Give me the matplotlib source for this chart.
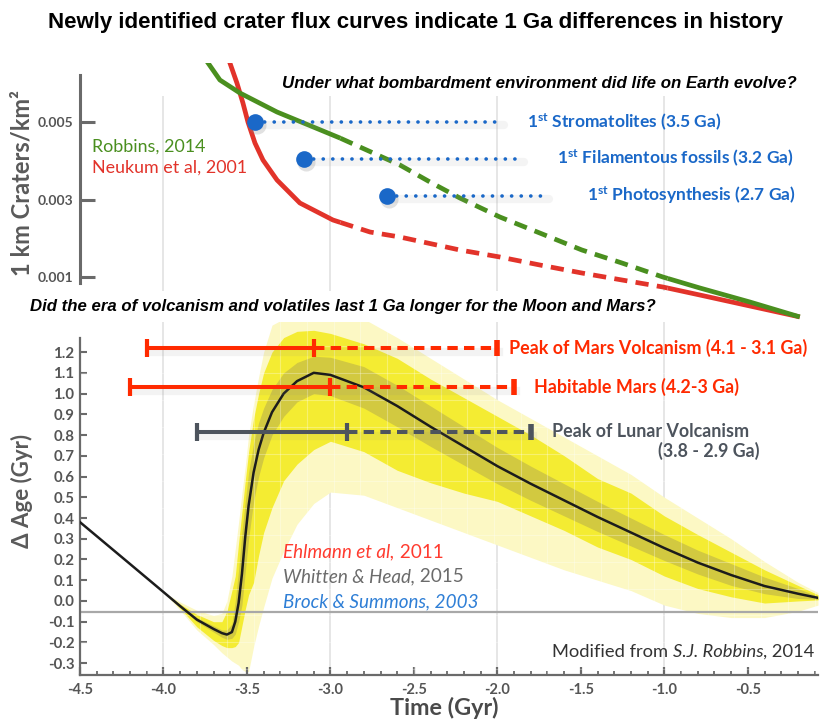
import numpy as np
import matplotlib
matplotlib.use('Agg')
import matplotlib.pyplot as plt
from matplotlib.transforms import offset_copy

plt.rcParams['font.family'] = ['Lato', 'DejaVu Sans']
plt.rcParams['mathtext.fontset'] = 'custom'
plt.rcParams['mathtext.rm'] = 'Lato'
plt.rcParams['mathtext.it'] = 'Lato:italic'
plt.rcParams['mathtext.bf'] = 'Lato:bold'
plt.rcParams['lines.scale_dashes'] = False

# ---- top panel: crater flux curves ----
robbins_t = [-3.78, -3.733, -3.662, -3.542, -3.32, -2.943, -2.584, -2.404, -2.225,
             -1.985, -1.746, -1.494, -1.254, -1.009, -0.787, -0.488, -0.189]
robbins_flux = [0.00681, 0.006523, 0.006084, 0.005748, 0.005258, 0.004587, 0.00389,
                0.003452, 0.003039, 0.002548, 0.002135, 0.001697, 0.001361, 0.001,
                0.000716, 0.000355, -0.00003]
neukum_t = [-3.625, -3.602, -3.56, -3.524, -3.494, -3.452, -3.404, -3.32, -3.183,
            -2.985, -2.763, -2.584, -2.225, -1.985, -1.746, -1.494, -1.254, -1.009,
            -0.787, -0.488, -0.189]
neukum_flux = [0.0068, 0.006523, 0.006006, 0.00549, 0.005, 0.004458, 0.004019,
               0.003503, 0.00291, 0.002471, 0.002161, 0.002032, 0.001697, 0.001516,
               0.00131, 0.001103, 0.000923, 0.000742, 0.000535, 0.000252, -0.00003]
dashed_from, dashed_to = -2.94, -0.98

life_labels = ['Stromatolites (3.5 Ga)', 'Filamentous fossils (3.2 Ga)',
               'Photosynthesis (2.7 Ga)']
life_t = [-3.45, -3.16, -2.66]
life_flux = [0.005, 0.00405, 0.0031]
life_dots_end = [-1.97, -1.85, -1.70]

# ---- bottom panel: delta age ----
age_t = [-4.5, -4.2, -4.0, -3.9, -3.8, -3.7, -3.65, -3.62, -3.59, -3.57, -3.55, -3.53,
         -3.51, -3.49, -3.46, -3.43, -3.40, -3.35, -3.28, -3.20, -3.10, -3.00, -2.80,
         -2.60, -2.40, -2.20, -2.00, -1.80, -1.60, -1.40, -1.20, -1.00, -0.80, -0.60,
         -0.40, -0.20, -0.08]
age_delta = [0.38, 0.178, 0.043, -0.025, -0.09, -0.135, -0.155, -0.162, -0.15, -0.10,
             -0.01, 0.13, 0.31, 0.46, 0.62, 0.73, 0.81, 0.91, 1.00, 1.06, 1.10, 1.09,
             1.03, 0.94, 0.84, 0.745, 0.65, 0.565, 0.485, 0.405, 0.33, 0.255, 0.185,
             0.125, 0.072, 0.035, 0.015]
core_hi = [0.38, 0.178, 0.043, -0.025, -0.08, -0.12, -0.14, -0.14, -0.11, 0.0, 0.15, 0.33,
           0.48, 0.62, 0.76, 0.86, 0.93, 1.02, 1.10, 1.15, 1.18, 1.175, 1.13, 1.04, 0.94,
           0.84, 0.74, 0.65, 0.565, 0.48, 0.40, 0.32, 0.245, 0.18, 0.115, 0.06, 0.022]
core_lo = [0.38, 0.178, 0.043, -0.025, -0.10, -0.15, -0.175, -0.185, -0.18, -0.16, -0.10,
           -0.02, 0.14, 0.30, 0.48, 0.60, 0.69, 0.80, 0.89, 0.96, 1.00, 0.99, 0.93, 0.84,
           0.745, 0.655, 0.565, 0.485, 0.41, 0.335, 0.265, 0.195, 0.13, 0.075, 0.035,
           0.012, 0.008]
mid_hi = [0.38, 0.178, 0.043, -0.015, -0.065, -0.10, -0.10, -0.05, 0.05, 0.12, 0.28, 0.43,
          0.58, 0.72, 0.88, 1.00, 1.10, 1.20, 1.27, 1.30, 1.305, 1.29, 1.24, 1.17, 1.07,
          0.98, 0.89, 0.80, 0.70, 0.59, 0.52, 0.41, 0.32, 0.235, 0.15, 0.075, 0.03]
mid_lo = [0.38, 0.178, 0.043, -0.035, -0.125, -0.19, -0.215, -0.225, -0.225, -0.22, -0.20,
          -0.12, -0.04, 0.03, 0.09, 0.22, 0.33, 0.45, 0.58, 0.66, 0.73, 0.77, 0.72, 0.63,
          0.57, 0.52, 0.48, 0.41, 0.34, 0.26, 0.20, 0.12, 0.06, 0.02, -0.01, 0.0, 0.005]
outer_hi = [0.38, 0.178, 0.043, -0.005, -0.045, -0.07, -0.06, 0.0, 0.12, 0.25, 0.38, 0.52,
            0.65, 0.80, 0.95, 1.08, 1.20, 1.33, 1.36, 1.36, 1.36, 1.36, 1.36, 1.27, 1.17,
            1.07, 0.97, 0.88, 0.79, 0.70, 0.61, 0.50, 0.40, 0.30, 0.19, 0.09, 0.04]
outer_lo = [0.38, 0.178, 0.043, -0.045, -0.14, -0.21, -0.25, -0.27, -0.29, -0.30, -0.31,
            -0.33, -0.34, -0.34, -0.22, -0.12, -0.03, 0.11, 0.24, 0.37, 0.47, 0.525, 0.51,
            0.45, 0.39, 0.33, 0.27, 0.21, 0.15, 0.10, 0.05, -0.02, -0.06, -0.08, -0.08,
            -0.05, -0.02]

era_labels = ['Peak of Mars Volcanism (4.1 - 3.1 Ga)', 'Habitable Mars (4.2-3 Ga)',
              'Peak of Lunar Volcanism']
era_start = [-4.1, -4.2, -3.8]
era_end = [-3.1, -3.0, -2.9]
era_extended = [-2.0, -1.9, -1.8]
era_level = [1.22, 1.03, 0.815]

GREEN = '#4a8f1f'
RED = '#e2332a'
BLUE = '#1a68c8'
BAR_RED = '#ff2a00'
BAR_GRAY = '#4d545d'
AXIS_GRAY = '#6a6a6a'
LABEL_GRAY = '#555555'


def split_at(t, f, a, b):
    t = np.asarray(t)
    f = np.asarray(f)
    fa, fb = np.interp([a, b], t, f)
    inside = (t > a) & (t < b)
    pre = (np.r_[t[t < a], a], np.r_[f[t < a], fa])
    mid = (np.r_[a, t[inside], b], np.r_[fa, f[inside], fb])
    post = (np.r_[b, t[t > b]], np.r_[fb, f[t > b]])
    return pre, mid, post


def pieces(ax, x, y, parts, **kw):
    # draw text runs of mixed style one after the other
    renderer = fig.canvas.get_renderer()
    trans = ax.transData
    for txt, style in parts:
        t = ax.text(x, y, txt, style=style, transform=trans, va='center', ha='left', **kw)
        w = t.get_window_extent(renderer).width
        trans = offset_copy(trans, fig=fig, x=w, y=0, units='dots')


fig = plt.figure(figsize=(8.22, 7.22), dpi=100)
ax1 = fig.add_axes([0.0973, 0.5573, 0.8978, 0.3553])
ax2 = fig.add_axes([0.0973, 0.0651, 0.8978, 0.4889])

# ---------- top panel ----------
ax1.set_xlim(-4.5, -0.08)
ax1.set_ylim(-0.0001, 0.00652)
ax1.vlines([-4, -3, -2, -1], 0.00063, 0.00566, color='#e4e4e4', lw=1.3, zorder=0)

for t, f, col in [(neukum_t, neukum_flux, RED), (robbins_t, robbins_flux, GREEN)]:
    pre, mid, post = split_at(t, f, dashed_from, dashed_to)
    ax1.plot(*pre, color=col, lw=3.4, solid_capstyle='butt', zorder=3)
    ax1.plot(*mid, color=col, lw=3.4, ls=(0, (9.5, 6.0)), dash_capstyle='butt', zorder=3)
    ax1.plot(*post, color=col, lw=3.4, solid_capstyle='butt', zorder=3)

shadow = offset_copy(ax1.transData, fig=fig, x=2, y=-3, units='dots')
label_offsets = [0.15, 0.205, 0.235]
for lab, t, f, te, dx in zip(life_labels, life_t, life_flux, life_dots_end, label_offsets):
    ax1.plot([t, te], [f, f], color='#9a9a9a', lw=6, alpha=0.1, transform=shadow,
             solid_capstyle='round', zorder=4)
    ax1.plot([t], [f], 'o', color='#888888', ms=13, mec='none', alpha=0.25,
             transform=shadow, zorder=4)
    ax1.plot([t, te], [f, f], color=BLUE, lw=2.6, ls=(0, (0.1, 6.8)),
             dash_capstyle='round', zorder=5)
    ax1.plot([t], [f], 'o', color=BLUE, ms=12, mec='none', zorder=6)
    ax1.text(te + dx, f, '1$^{\\mathbf{st}}$ ' + lab, color=BLUE, fontsize=12.5,
             fontweight='bold', va='center', ha='left')

ax1.text(-4.428, 0.004355, 'Robbins, 2014', color=GREEN, fontsize=12.9, va='center')
ax1.text(-4.428, 0.003813, 'Neukum et al, 2001', color=RED, fontsize=12.9, va='center')

for s in ['top', 'right', 'bottom']:
    ax1.spines[s].set_visible(False)
ax1.spines['left'].set_bounds(0.000845, 0.00621)
ax1.spines['left'].set_color(AXIS_GRAY)
ax1.spines['left'].set_linewidth(2.2)
ax1.set_xticks([])
ax1.set_yticks([0.001, 0.003, 0.005])
ax1.set_yticklabels(['0.001', '0.003', '0.005'])
ax1.tick_params(axis='y', direction='in', length=11, width=2.2, color=AXIS_GRAY,
                pad=5, labelsize=10, labelcolor=LABEL_GRAY)
for lab in ax1.get_yticklabels():
    lab.set_fontweight('bold')
ax1.patch.set_alpha(0)

# ---------- bottom panel ----------
ax2.set_xlim(-4.5, -0.08)
ax2.set_ylim(-0.357, 1.345)
ax2.vlines([-4, -3, -2, -1], -0.357, 1.345, color='#e4e4e4', lw=1.3, zorder=0)

ax2.fill_between(age_t, outer_lo, outer_hi, color='#fcf8c4', lw=0, zorder=1)
ax2.fill_between(age_t, mid_lo, mid_hi, color='#f4ec32', lw=0, zorder=1.2)
ax2.fill_between(age_t, core_lo, core_hi, color='#d2c940', lw=0, zorder=1.4)
# faint grid showing through the shaded bands
for gx in np.arange(-4.42, -0.05, 0.16):
    ax2.axvline(gx, color='white', lw=0.8, alpha=0.3, zorder=1.6)
for gy in np.arange(-0.33, 1.35, 0.13):
    ax2.axhline(gy, color='white', lw=0.8, alpha=0.3, zorder=1.6)

ax2.axhline(-0.053, color='#a8a8a8', lw=1.6, zorder=2)
ax2.plot(age_t, age_delta, color='#1c1c1c', lw=1.8, zorder=3)

bar_shadow = offset_copy(ax2.transData, fig=fig, x=2, y=-4, units='dots')
bar_colors = [BAR_RED, BAR_RED, BAR_GRAY]
label_gaps = [0.072, 0.12, 0.13]
for lab, a, b, c, y, col, gap in zip(era_labels, era_start, era_end, era_extended,
                                      era_level, bar_colors, label_gaps):
    ax2.plot([a, c], [y, y], color='#8a8a8a', lw=6, alpha=0.1, transform=bar_shadow,
             zorder=4)
    ax2.plot([a, b], [y, y], color=col, lw=2.9, solid_capstyle='butt', zorder=5)
    ax2.plot([b, c], [y, y], color=col, lw=2.9, ls=(0, (7.5, 4.5)),
             dash_capstyle='butt', zorder=5)
    ax2.plot([a, b], [y, y], '|', color=col, ms=13, mew=3, zorder=6)
    ax2.plot([c], [y], '|', color=col, ms=12, mew=4, zorder=6)
    ax2.text(c + gap, y, lab, color=col, fontsize=12.9, fontweight='bold',
             va='center', ha='left')
ax2.text(-0.428, 0.723, '(3.8 - 2.9 Ga)', color=BAR_GRAY, fontsize=12.9,
         fontweight='bold', va='center', ha='right')

pieces(ax2, -3.284, 0.236, [('Ehlmann et al,', 'italic'), (' 2011', 'normal')],
       color='#ff3b2f', fontsize=13.6)
pieces(ax2, -3.284, 0.116, [('Whitten & Head,', 'italic'), (' 2015', 'normal')],
       color='#6b6b6b', fontsize=13.6)
ax2.text(-3.284, -0.005, 'Brock & Summons, 2003', color='#2f7fd6', fontsize=13.6,
         style='italic', va='center')
pieces(ax2, -1.674, -0.246, [('Modified from ', 'normal'), ('S.J. Robbins,', 'italic'),
                             (' 2014', 'normal')], color='#333333', fontsize=13.2)

for s in ['top', 'right']:
    ax2.spines[s].set_visible(False)
ax2.spines['left'].set_bounds(-0.357, 1.267)
for s in ['left', 'bottom']:
    ax2.spines[s].set_color(AXIS_GRAY)
    ax2.spines[s].set_linewidth(1.6)

ax2.set_xticks(np.arange(-4.5, -0.4, 0.5))
ax2.set_xticks(np.arange(-4.5, -0.05, 0.1), minor=True)
ax2.set_xticklabels(['%.1f' % v for v in np.arange(-4.5, -0.4, 0.5)])
ax2.set_yticks(np.round(np.arange(-0.3, 1.25, 0.1), 1))
ax2.set_yticklabels(['%.1f' % v for v in np.round(np.arange(-0.3, 1.25, 0.1), 1)])
ax2.tick_params(axis='x', which='major', direction='in', length=6, width=1.6,
                color=AXIS_GRAY, pad=6, labelsize=10.5, labelcolor=LABEL_GRAY)
ax2.tick_params(axis='x', which='minor', direction='in', length=3, width=1.3,
                color=AXIS_GRAY)
ax2.tick_params(axis='y', direction='in', length=5, width=1.5, color=AXIS_GRAY,
                pad=4, labelsize=10.8, labelcolor=LABEL_GRAY)
for lab in ax2.get_xticklabels() + ax2.get_yticklabels():
    lab.set_fontweight('bold')
ax2.patch.set_alpha(0)

# ---------- titles and axis labels ----------
fig.text(0.506, 0.9695, 'Newly identified crater flux curves indicate 1 Ga differences in history',
         family='Liberation Sans', fontweight='bold', fontsize=16, ha='center', va='center')
fig.text(0.343, 0.885, 'Under what bombardment environment did life on Earth evolve?',
         family='Liberation Sans', fontweight='bold', style='italic', fontsize=12.2,
         ha='left', va='center')
fig.text(0.0365, 0.5748,
         'Did the era of volcanism and volatiles last 1 Ga longer for the Moon and Mars?',
         family='Liberation Sans', fontweight='bold', style='italic', fontsize=12.1,
         ha='left', va='center')
fig.text(0.0268, 0.7465, '1 km Craters/km²', rotation=90, fontsize=17, fontweight='bold',
         color='#5a5a5a', ha='center', va='center')
fig.text(0.0268, 0.32, 'Δ Age (Gyr)', rotation=90, fontsize=16, fontweight='bold',
         color='#5a5a5a', ha='center', va='center')
fig.text(0.541, 0.0194, 'Time (Gyr)', fontsize=16.8, fontweight='bold', color='#4a4a4a',
         ha='center', va='center')

fig.savefig('out.png', dpi=100)
